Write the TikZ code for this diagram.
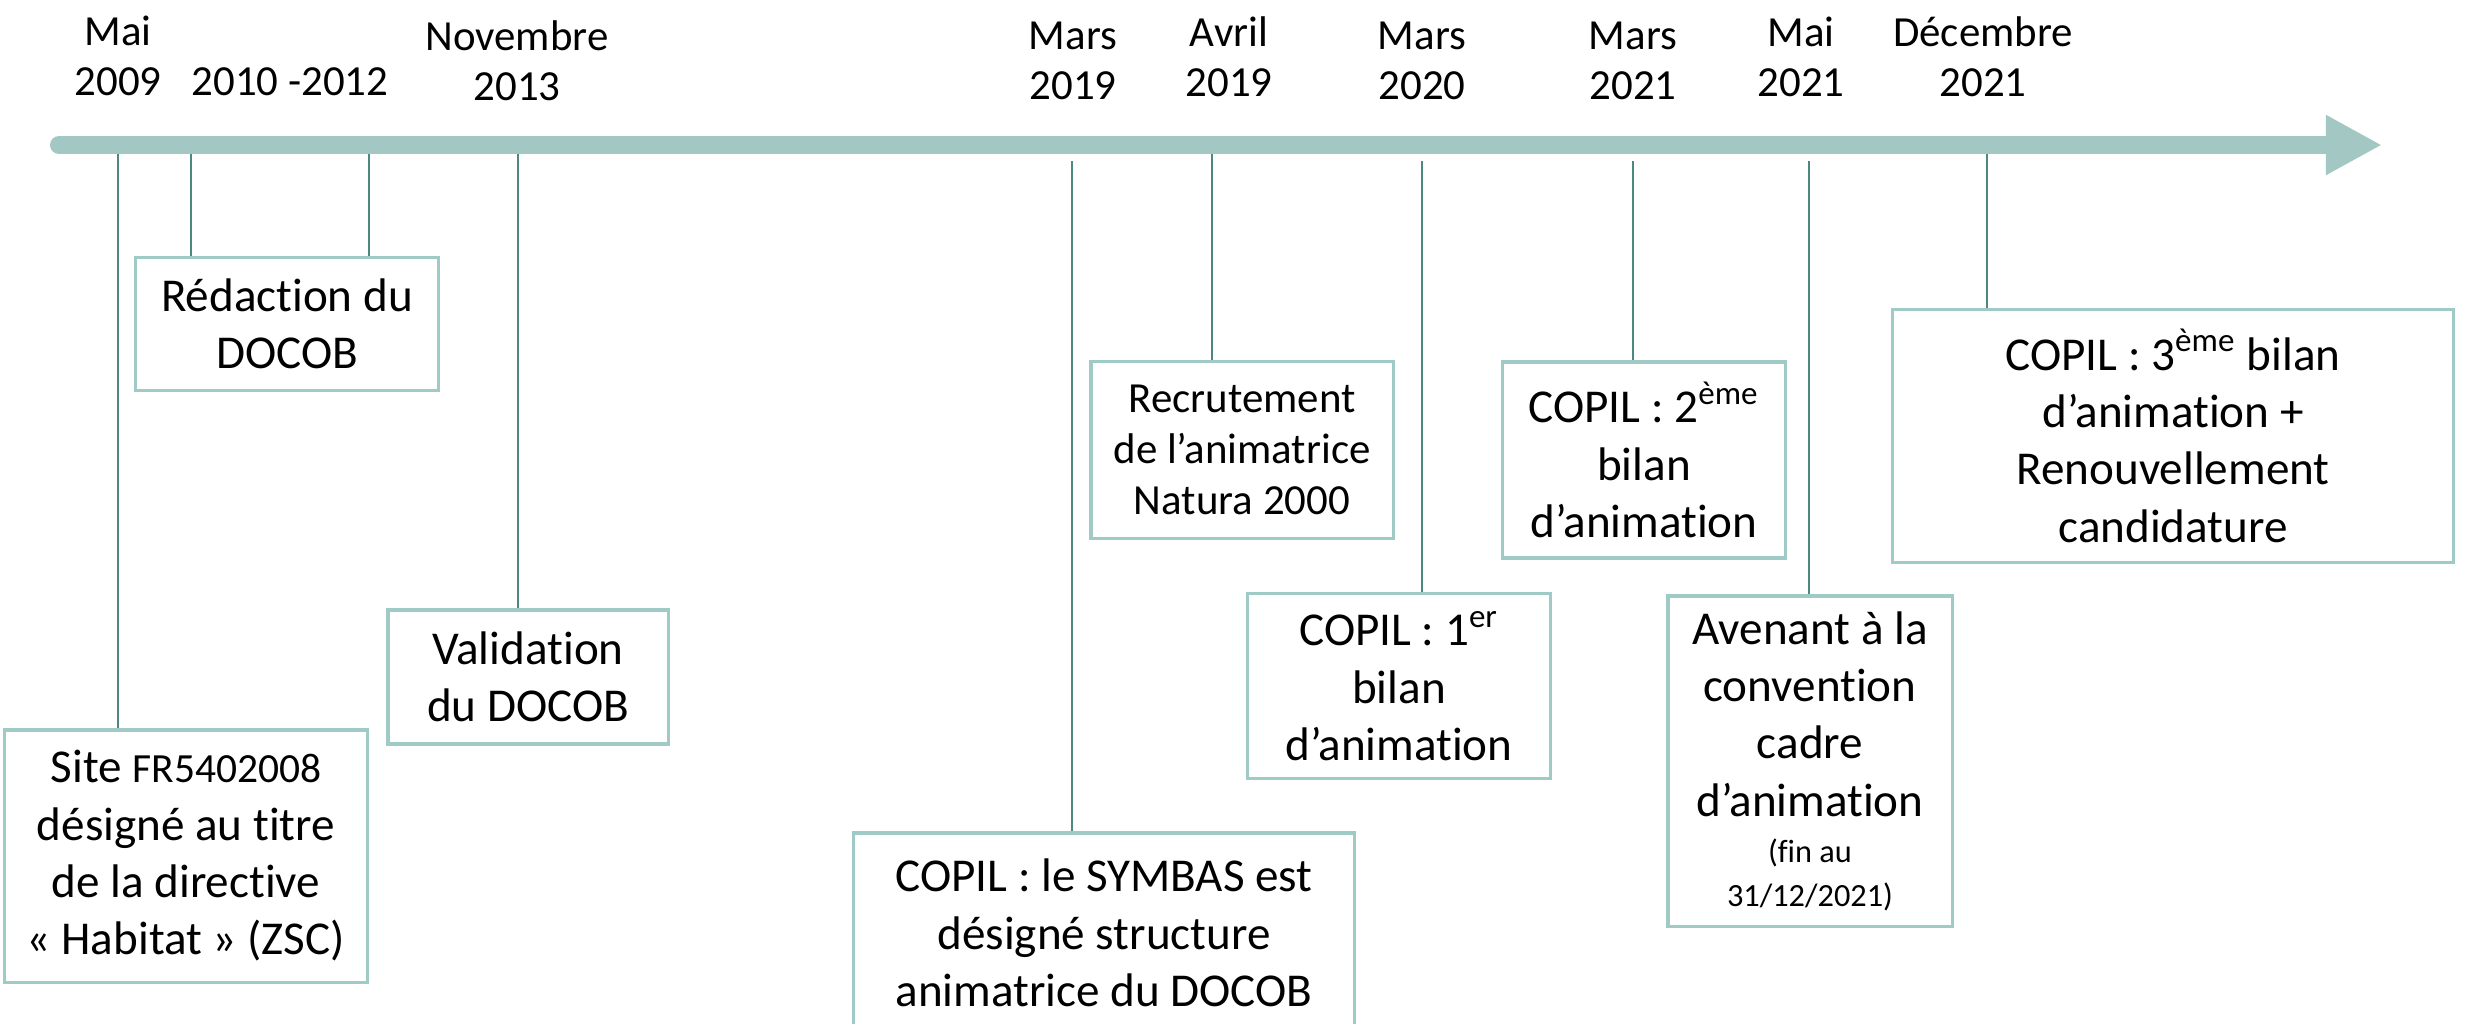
\documentclass[tikz,border=0pt]{standalone}
\usepackage{fontspec}
\setmainfont{Carlito}[Ligatures={NoCommon,NoContextual}]
\usetikzlibrary{arrows.meta}

\definecolor{barteal}{RGB}{163,200,196}
\definecolor{lineteal}{RGB}{78,135,130}
\definecolor{boxteal}{RGB}{160,202,198}

\tikzstyle{event} = [rectangle, draw=boxteal, line width=0.9pt, align=center, inner sep=0pt, font=\fontsize{13.4}{16.3}\selectfont]
\tikzstyle{date} = [align=center, font=\fontsize{12.2}{14.3}\selectfont]
\tikzstyle{tick} = [draw=lineteal, line width=0.6pt]
\tikzstyle{timeline} = [draw=barteal, line width=0.18cm, line cap=round, -{Triangle[length=0.56cm, width=0.56cm]}]

\begin{document}
\begin{tikzpicture}[x=0.01cm, y=-0.01cm]
		\useasboundingbox (0,0) rectangle (2471,1023);
		% Axis
		\coordinate (start) at (59,145);
		\coordinate (end) at (2382,145);
		\draw [timeline] (start) -- (end);
		% Dates
		\node (d2009) [date] at (118,56) {Mai\\2009};
		\node (d2010) [date] at (290,82) {2010 -2012};
		\node (d2013) [date] at (517,61) {Novembre\\2013};
		\node (d2019a) [date] at (1073,61) {Mars\\2019};
		\node (d2019b) [date] at (1229,57) {Avril\\2019};
		\node (d2020) [date] at (1422,61) {Mars\\2020};
		\node (d2021a) [date] at (1633,61) {Mars\\2021};
		\node (d2021b) [date] at (1801,57) {Mai\\2021};
		\node (d2021c) [date] at (1983,57) {Décembre\\2021};
		% Boxes
		\node (site) [event, minimum width=3.62cm, minimum height=2.52cm] at (186,856) {Site {\fontsize{11.8}{16.3}\selectfont FR5402008}\\désigné au titre\\de la directive\\« Habitat » (ZSC)};
		\node (redac) [event, minimum width=3.02cm, minimum height=1.33cm] at (287,324) {Rédaction du\\DOCOB};
		\node (valid) [event, minimum width=2.80cm, minimum height=1.34cm] at (528,677) {Validation\\du DOCOB};
		\node (symbas) [event, minimum width=5.01cm, minimum height=2.00cm] at (1104,933) {COPIL : le SYMBAS est\\désigné structure\\animatrice du DOCOB};
		\node (recrut) [event, minimum width=3.02cm, minimum height=1.77cm, font=\fontsize{12.2}{14.4}\selectfont] at (1242,450) {Recrutement\\de l’animatrice\\Natura 2000};
		\node (copil1) [event, minimum width=3.03cm, minimum height=1.85cm] at (1399,686) {COPIL : 1\textsuperscript{er}\\bilan\\d’animation};
		\node (copil2) [event, minimum width=2.83cm, minimum height=1.96cm] at (1644,460) {COPIL : 2\textsuperscript{ème}\\bilan\\d’animation};
		\node (avenant) [event, minimum width=2.84cm, minimum height=3.30cm] at (1810,761) {Avenant à la\\convention\\cadre\\d’animation\\[-3pt]{\fontsize{9.2}{11.2}\selectfont (fin au}\\[-4pt]{\fontsize{9.2}{11.2}\selectfont 31/12/2021)}};
		\node (copil3) [event, minimum width=5.61cm, minimum height=2.53cm] at (2173,436) {COPIL : 3\textsuperscript{ème} bilan\\d’animation +\\Renouvellement\\candidature};
		% Ticks
		\coordinate (t2009) at (118,154);
		\coordinate (t2010) at (191,154);
		\coordinate (t2012) at (369,154);
		\coordinate (t2013) at (518,154);
		\coordinate (t2019a) at (1072,161);
		\coordinate (t2019b) at (1212,154);
		\coordinate (t2020) at (1422,161);
		\coordinate (t2021a) at (1633,161);
		\coordinate (t2021b) at (1809,161);
		\coordinate (t2021c) at (1987,154);
		\draw [tick] (t2009) -- (t2009 |- site.north);
		\draw [tick] (t2010) -- (t2010 |- redac.north);
		\draw [tick] (t2012) -- (t2012 |- redac.north);
		\draw [tick] (t2013) -- (t2013 |- valid.north);
		\draw [tick] (t2019a) -- (t2019a |- symbas.north);
		\draw [tick] (t2019b) -- (t2019b |- recrut.north);
		\draw [tick] (t2020) -- (t2020 |- copil1.north);
		\draw [tick] (t2021a) -- (t2021a |- copil2.north);
		\draw [tick] (t2021b) -- (t2021b |- avenant.north);
		\draw [tick] (t2021c) -- (t2021c |- copil3.north);
	\end{tikzpicture}
\end{document}
